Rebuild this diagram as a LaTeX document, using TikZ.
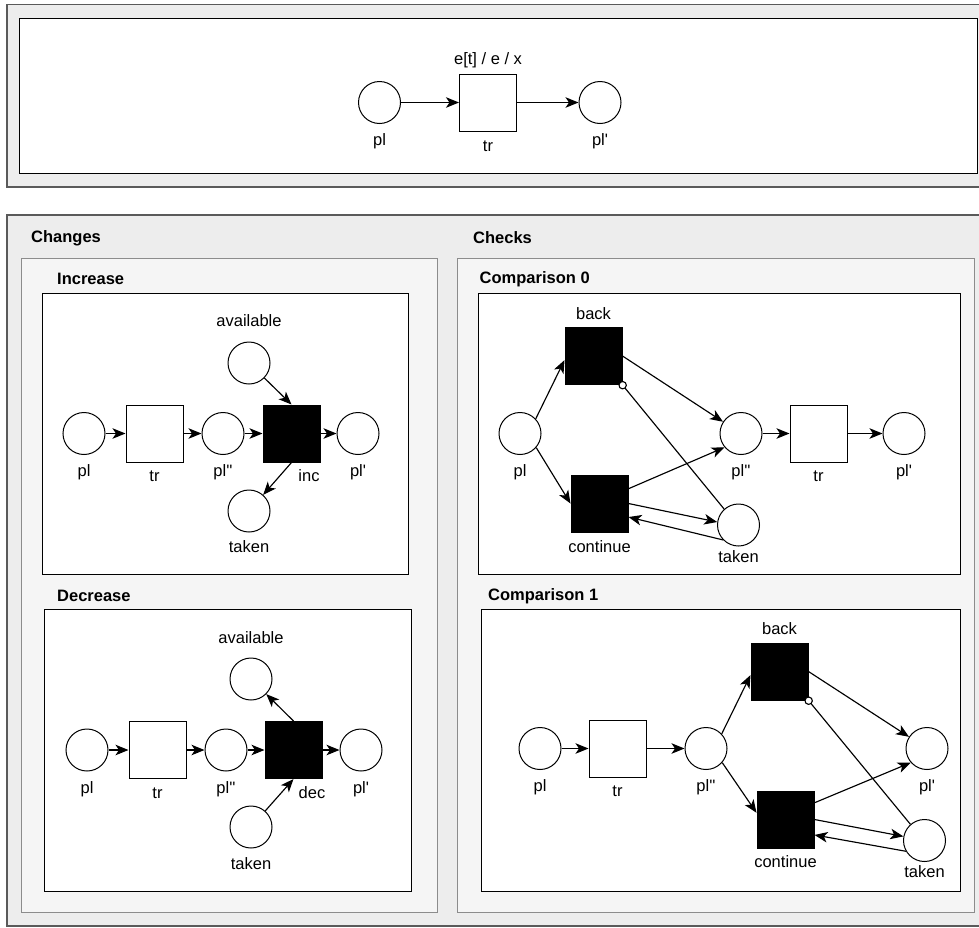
\documentclass[tikz,border=0pt]{standalone}
\usepackage{fontspec}
\newfontfamily\lf{Liberation Sans}
\usetikzlibrary{arrows.meta}

\definecolor{panelfill}{HTML}{EDEDED}
\definecolor{panelline}{HTML}{5A5A5A}
\definecolor{groupfill}{HTML}{F5F5F5}
\definecolor{groupline}{HTML}{8C8C8C}

\begin{document}
\begin{tikzpicture}[x=1pt,y=-1pt,
  every node/.style={font=\lf\fontsize{16.5}{20}\selectfont},
  place/.style={circle,draw,line width=1pt,fill=white,minimum size=42pt,inner sep=0pt},
  trans/.style={rectangle,draw,line width=1pt,fill=white,minimum size=57pt,inner sep=0pt},
  btrans/.style={trans,fill=black},
  lbl/.style={inner sep=0pt,text height=12pt,text depth=3.5pt},
  bl/.style 2 args={label={[lbl,label distance=#2]below:{#1}}},
  al/.style 2 args={label={[lbl,label distance=#2]above:{#1}}},
  arc/.style={draw,line width=1.15pt,-{Stealth[length=13pt,width=10.5pt,inset=3.5pt]}},
  inhib/.style={draw,line width=1.15pt,shorten >=-4pt,-{Circle[length=8.5pt,width=8.5pt,fill=white,line width=1.1pt]}},
  panel/.style={draw=panelline,fill=panelfill,line width=1.2pt},
  group/.style={draw=groupline,fill=groupfill,line width=1pt},
  frame/.style={draw=black,fill=white,line width=1pt},
  title/.style={font=\lf\bfseries\fontsize{16.5}{20}\selectfont,anchor=west,inner sep=0pt}
]
\useasboundingbox (0,0) rectangle (979,927);
\clip (0,0) rectangle (979,927);

% ---------- top panel: the original transition ----------
\draw[panel] (7,4.5) rectangle (995,187);
\draw[frame] (19,18) rectangle (977,173);

\node[place,bl={pl}{9pt}]   (tpl)  at (379.5,102.5) {};
\node[trans,bl={tr}{8pt},al={e[t] / e / x}{5pt}] (ttr) at (488,102.5) {};
\node[place,bl={pl'}{9pt}]  (tplp) at (600,102.5) {};
\draw[arc] (tpl) -- (ttr);
\draw[arc] (ttr) -- (tplp);

% ---------- bottom panel ----------
\draw[panel] (7,215) rectangle (995,926);
\node[title] (tchanges) at (31,238.5) {Changes};
\node[title] (tchecks)  at (473,237.5) {Checks};

\draw[group] (21,258) rectangle (437,912);
\draw[group] (457,258) rectangle (974,912);

% ----- Increase -----
\node[title] (tinc) at (57,278.5) {Increase};
\draw[frame] (42,293) rectangle (408,574);
\node[place,bl={pl}{9.5pt}]    (ipl)  at (84,433.5) {};
\node[trans,bl={tr}{7pt}]      (itr)  at (154.5,433.5) {};
\node[place,bl={pl''}{9.5pt}]  (ipl2) at (223,433.5) {};
\node[btrans,label={[lbl,label distance=7pt,xshift=17.5pt]below:inc}] (iinc) at (291.5,433.5) {};
\node[place,bl={pl'}{9.5pt}]   (iplp) at (358,433.5) {};
\node[place,al={available}{11.5pt}] (iav) at (249,363) {};
\node[place,bl={taken}{8pt}]   (itk)  at (249,511) {};
\draw[arc] (ipl) -- (itr);
\draw[arc] (itr) -- (ipl2);
\draw[arc] (ipl2) -- (iinc);
\draw[arc] (iinc) -- (iplp);
\draw[arc] (iav) -- (iinc.north);
\draw[arc] (iinc.south) -- (itk);

% ----- Decrease -----
\node[title] (tdec) at (57,595.5) {Decrease};
\draw[frame] (44,609) rectangle (411,891);
\node[place,bl={pl}{9.5pt}]    (dpl)  at (87,750) {};
\node[trans,bl={tr}{7.5pt}]    (dtr)  at (157.5,750) {};
\node[place,bl={pl''}{9.5pt}]  (dpl2) at (226,750) {};
\node[btrans,label={[lbl,label distance=7.5pt,xshift=18.5pt]below:dec}] (ddec) at (293.5,750) {};
\node[place,bl={pl'}{9.5pt}]   (dplp) at (361,750) {};
\node[place,al={available}{10.5pt}] (dav) at (251,679) {};
\node[place,bl={taken}{9pt}]   (dtk)  at (251,827) {};
\draw[arc] (dpl) -- (dtr);
\draw[arc] (dtr) -- (dpl2);
\draw[arc] (dpl2) -- (ddec);
\draw[arc] (ddec) -- (dplp);
\draw[arc] (ddec.north) -- (dav);
\draw[arc] (dtk) -- (ddec.south);

% ----- Comparison 0 -----
\node[title] (tcmp0) at (479.5,279) {Comparison 0};
\draw[frame] (478,293) rectangle (960,574);
\node[place,bl={pl}{9.5pt}]     (cpl)   at (520,433.5) {};
\node[btrans,al={back}{3.5pt}]  (cback) at (593.5,356) {};
\node[btrans,bl={continue}{7.5pt}] (ccont) at (599.5,503.5) {};
\node[place,bl={pl''}{9.5pt}]   (cpl2)  at (741,433.5) {};
\node[trans,bl={tr}{7pt}]       (ctr)   at (818.5,433.5) {};
\node[place,bl={pl'}{9.5pt}]    (cplp)  at (904,433.5) {};
\node[place,bl={taken}{3.5pt}]  (ctk)   at (738.5,525) {};
\draw[arc] (cpl.43) -- (cback.188);
\draw[arc] (cpl.-41) -- (ccont.west);
\draw[arc] (cback.east) -- (cpl2);
\draw[arc] (ccont.27) -- (cpl2.220);
\draw[arc] (ccont.east) -- (ctk.172);
\draw[arc] (ctk.224) -- (ccont.-25);
\draw[inhib] (ctk.132) -- (cback.south east);
\draw[arc] (cpl2) -- (ctr);
\draw[arc] (ctr) -- (cplp);

% ----- Comparison 1 -----
\node[title] (tcmp1) at (488,596) {Comparison 1};
\draw[frame] (481,609) rectangle (960,891);
\node[place,bl={pl}{9.5pt}]     (kpl)   at (540,748.5) {};
\node[trans,bl={tr}{7pt}]       (ktr)   at (617.5,748.5) {};
\node[place,bl={pl''}{9.5pt}]   (kpl2)  at (706,748.5) {};
\node[btrans,al={back}{4.5pt}]  (kback) at (779.5,671.5) {};
\node[btrans,bl={continue}{7pt}] (kcont) at (785.5,819.5) {};
\node[place,bl={pl'}{9.5pt}]    (kplp)  at (927,748.5) {};
\node[place,bl={taken}{3.5pt}]  (ktk)   at (924.5,840.5) {};
\draw[arc] (kpl) -- (ktr);
\draw[arc] (ktr) -- (kpl2);
\draw[arc] (kpl2.43) -- (kback.187);
\draw[arc] (kpl2.-41) -- (kcont.167);
\draw[arc] (kback.east) -- (kplp);
\draw[arc] (kcont.30) -- (kplp.221);
\draw[arc] (kcont.east) -- (ktk.169);
\draw[arc] (ktk.210) -- (kcont.-28);
\draw[inhib] (ktk.131) -- (kback.south east);
\end{tikzpicture}
\end{document}
